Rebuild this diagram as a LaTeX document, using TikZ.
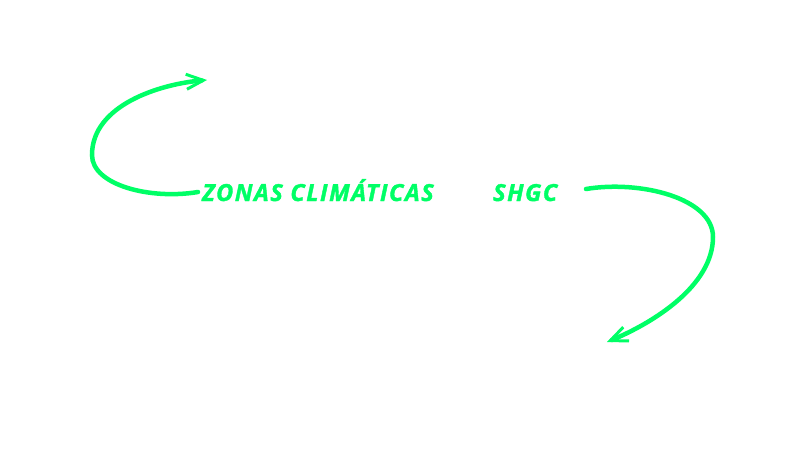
\documentclass[tikz,border=0pt]{standalone}
\usepackage{fontspec}
\setmainfont{Open Sans}
\newfontfamily\lblfont{Open Sans}[BoldItalicFeatures={FakeBold=1.6,LetterSpace=6.5}]
\usetikzlibrary{arrows.meta}
\definecolor{neon}{RGB}{0,255,102}
\tikzset{
  lbl/.style={text=neon, font=\lblfont\fontsize{23.5}{28}\selectfont\bfseries\itshape, inner sep=0pt, anchor=base west},
  curvearrow/.style={draw=neon, line width=4.5pt, line cap=round, -{Straight Barb[length=17pt, width=15pt, line width=3pt]}}
}
\begin{document}
\begin{tikzpicture}[x=1pt,y=-1pt]
\useasboundingbox[fill=white] (0,0) rectangle (801,464);
\node[lbl] (zonas) at (202,201) {ZONAS CLIMÁTICAS};
\node[lbl] (shgc) at (493,201) {SHGC};
\coordinate (a1s) at (198,192);
\coordinate (a1m) at (92,155);
\coordinate (a1e) at (207,80);
\coordinate (a2s) at (586,189);
\coordinate (a2m) at (713,237);
\coordinate (a2e) at (607,342);
\draw[curvearrow] (a1s) .. controls (150,200) and (92,185) .. (a1m)
   .. controls (92,105) and (160,84) .. (a1e);
\draw[curvearrow] (a2s) .. controls (640,180) and (713,198) .. (a2m)
   .. controls (713,285) and (655,322) .. (a2e);
\end{tikzpicture}
\end{document}
